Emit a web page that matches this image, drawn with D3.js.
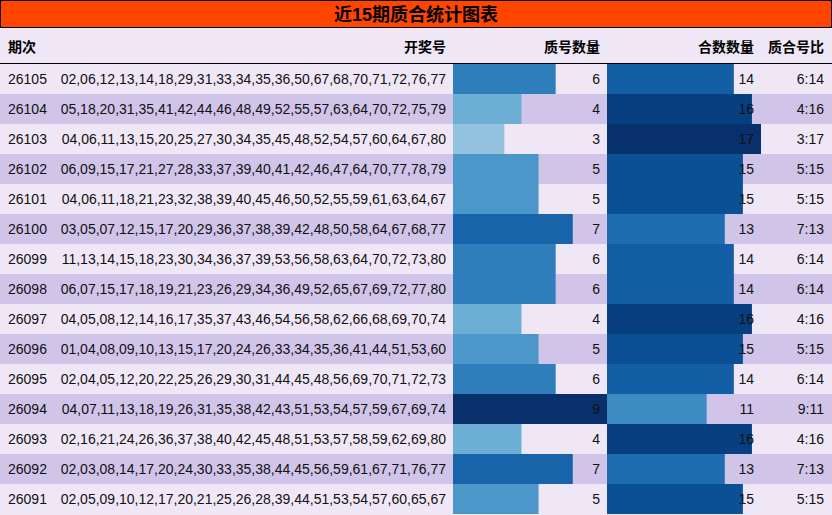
<!DOCTYPE html>
<html><head><meta charset="utf-8">
<script src="https://cdn.jsdelivr.net/npm/d3@7"></script>
<style>body{margin:0;background:#fff}svg{font-family:"Liberation Sans","Noto Sans CJK SC",sans-serif}</style>
</head><body><svg width="832" height="515"></svg>
<script>
var periods = ["26105","26104","26103","26102","26101","26100","26099","26098","26097","26096","26095","26094","26093","26092","26091"];
var draws = [
  "02,06,12,13,14,18,29,31,33,34,35,36,50,67,68,70,71,72,76,77",
  "05,18,20,31,35,41,42,44,46,48,49,52,55,57,63,64,70,72,75,79",
  "04,06,11,13,15,20,25,27,30,34,35,45,48,52,54,57,60,64,67,80",
  "06,09,15,17,21,27,28,33,37,39,40,41,42,46,47,64,70,77,78,79",
  "04,06,11,18,21,23,32,38,39,40,45,46,50,52,55,59,61,63,64,67",
  "03,05,07,12,15,17,20,29,36,37,38,39,42,48,50,58,64,67,68,77",
  "11,13,14,15,18,23,30,34,36,37,39,53,56,58,63,64,70,72,73,80",
  "06,07,15,17,18,19,21,23,26,29,34,36,49,52,65,67,69,72,77,80",
  "04,05,08,12,14,16,17,35,37,43,46,54,56,58,62,66,68,69,70,74",
  "01,04,08,09,10,13,15,17,20,24,26,33,34,35,36,41,44,51,53,60",
  "02,04,05,12,20,22,25,26,29,30,31,44,45,48,56,69,70,71,72,73",
  "04,07,11,13,18,19,26,31,35,38,42,43,51,53,54,57,59,67,69,74",
  "02,16,21,24,26,36,37,38,40,42,45,48,51,53,57,58,59,62,69,80",
  "02,03,08,14,17,20,24,30,33,35,38,44,45,56,59,61,67,71,76,77",
  "02,05,09,10,12,17,20,21,25,26,28,39,44,51,53,54,57,60,65,67"
];
var primeCount = [6,4,3,5,5,7,6,6,4,5,6,9,4,7,5];
var compCount = [14,16,17,15,15,13,14,14,16,15,14,11,16,13,15];
var headers = ["期次","开奖号","质号数量","合数数量","质合号比"];

var svg = d3.select("svg");
var rowH = 30, top0 = 64;
var y = d3.scaleBand().domain(periods).range([top0, top0 + rowH*periods.length]);
var xP = d3.scaleLinear().domain([0,9]).range([453,607]);
var xC = d3.scaleLinear().domain([0,17]).range([607,761]);
var cP = d3.scaleLinear().domain([3,9]).range([0.4,1]);
var cC = d3.scaleLinear().domain([11,17]).range([0.65,1]);

svg.append("rect").attr("x",0).attr("y",28).attr("width",832).attr("height",487).attr("fill","#efe7f5");
svg.append("rect").attr("x",0.5).attr("y",0.5).attr("width",831).attr("height",27)
  .attr("fill","#ff4500").attr("stroke","#000");
svg.append("text").attr("x",416).attr("y",21).attr("text-anchor","middle")
  .attr("font-size",18).attr("font-weight","bold").text("近15期质合统计图表");

var hx = [8,446,600,754,824], ha = ["start","end","end","end","end"];
svg.selectAll(".h").data(headers).enter().append("text")
  .attr("x",function(d,i){return hx[i];}).attr("y",52).attr("text-anchor",function(d,i){return ha[i];})
  .attr("font-size",14).attr("font-weight","bold").text(function(d){return d;});
svg.append("line").attr("x1",0).attr("x2",832).attr("y1",63.5).attr("y2",63.5).attr("stroke","#000");

var rows = svg.selectAll(".row").data(periods).enter().append("g")
  .attr("transform",function(d){return "translate(0,"+y(d)+")";});
rows.append("rect").attr("width",832).attr("height",rowH)
  .attr("fill",function(d,i){return i%2 ? "#d1c4e9" : "#efe7f5";});
rows.append("rect").attr("x",xP(0)).attr("width",function(d,i){return xP(primeCount[i])-xP(0);})
  .attr("height",rowH).attr("fill",function(d,i){return d3.interpolateBlues(cP(primeCount[i]));});
rows.append("rect").attr("x",xC(0)).attr("width",function(d,i){return xC(compCount[i])-xC(0);})
  .attr("height",rowH).attr("fill",function(d,i){return d3.interpolateBlues(cC(compCount[i]));});
function cell(x, anchor, f){
  rows.append("text").attr("x",x).attr("y",20).attr("text-anchor",anchor)
    .attr("font-size",14).attr("fill","#111").text(f);
}
cell(8,"start",function(d){return d;});
cell(446,"end",function(d,i){return draws[i];});
cell(600,"end",function(d,i){return primeCount[i];});
cell(754,"end",function(d,i){return compCount[i];});
cell(824,"end",function(d,i){return primeCount[i]+":"+compCount[i];});
</script></body></html>
